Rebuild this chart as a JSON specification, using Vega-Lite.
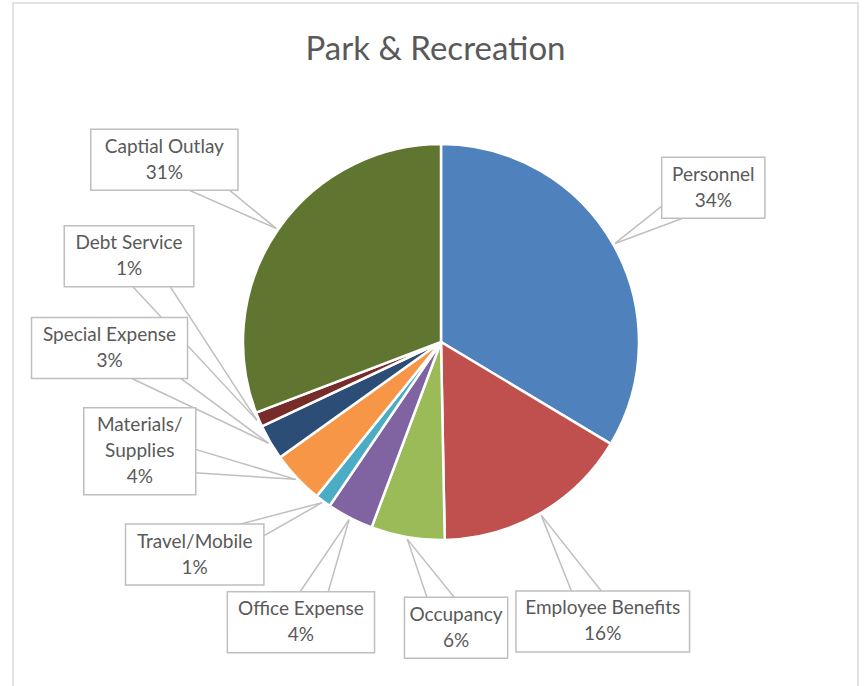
{
  "$schema": "https://vega.github.io/schema/vega-lite/v6.json",
  "width": 845,
  "height": 684,
  "autosize": {"type": "none"},
  "padding": {"left": 13, "top": 3, "right": 8, "bottom": 0},
  "background": "white",
  "config": {
    "view": {"stroke": "#d9d9d9", "strokeWidth": 1.5},
    "font": "Lato"
  },
  "title": {
    "text": "Park & Recreation",
    "font": "Lato",
    "fontSize": 33,
    "fontWeight": "normal",
    "color": "#595959",
    "anchor": "middle",
    "baseline": "alphabetic",
    "offset": -90
  },
  "data": {
    "values": [
      {"idx": 0, "category": "Personnel", "label": "Personnel", "value": 33.6},
      {"idx": 1, "category": "Employee Benefits", "label": "Employee Benefits", "value": 16.1},
      {"idx": 2, "category": "Occupancy", "label": "Occupancy", "value": 6.0},
      {"idx": 3, "category": "Office Expense", "label": "Office Expense", "value": 3.8},
      {"idx": 4, "category": "Travel/Mobile", "label": "Travel/Mobile", "value": 1.3},
      {"idx": 5, "category": "Materials/Supplies", "label": "Materials/\nSupplies", "value": 4.3},
      {"idx": 6, "category": "Special Expense", "label": "Special Expense", "value": 2.9},
      {"idx": 7, "category": "Debt Service", "label": "Debt Service", "value": 1.2},
      {"idx": 8, "category": "Captial Outlay", "label": "Captial Outlay", "value": 30.8}
    ]
  },
  "transform": [
    {"joinaggregate": [{"op": "sum", "field": "value", "as": "total"}]},
    {"window": [{"op": "sum", "field": "value", "as": "cum"}], "sort": [{"field": "idx"}], "frame": [null, 0]},
    {"calculate": "datum.value / datum.total", "as": "pct"},
    {"calculate": "(datum.cum - datum.value / 2) / datum.total * 360", "as": "mid"},
    {"calculate": "length(split(datum.label, '\\n')) + 1", "as": "nlines"},
    {"calculate": "4.4 * length(split(datum.label, '\\n')[0]) + 12", "as": "hw"},
    {"calculate": "(datum.nlines * 26 + 9) / 2", "as": "hh"},
    {"calculate": "datum.mid - 20 * datum.idx", "as": "t1"},
    {"window": [{"op": "max", "field": "t1", "as": "m1"}], "sort": [{"field": "idx"}], "frame": [null, 0]},
    {"calculate": "20 * datum.idx + datum.m1", "as": "a1"},
    {"window": [
      {"op": "lag", "field": "a1", "as": "pa1"},
      {"op": "lag", "field": "hw", "as": "phw"},
      {"op": "lag", "field": "hh", "as": "phh"}
    ], "sort": [{"field": "idx"}]},
    {"calculate": "(datum.a1 + datum.pa1) / 2 * PI / 180", "as": "th"},
    {"calculate": "datum.idx == 0 ? 0 : min((datum.hw + datum.phw) / (310 * abs(cos(datum.th))), (datum.hh + datum.phh) / (310 * abs(sin(datum.th)))) * 180 / PI + 5", "as": "gap"},
    {"window": [{"op": "sum", "field": "gap", "as": "G"}], "sort": [{"field": "idx"}], "frame": [null, 0]},
    {"calculate": "datum.mid - datum.G", "as": "t2"},
    {"window": [{"op": "max", "field": "t2", "as": "m2"}], "sort": [{"field": "idx"}], "frame": [null, 0]},
    {"joinaggregate": [{"op": "mean", "field": "t2", "as": "tmean"}], "groupby": ["m2"]},
    {"calculate": "datum.G + (datum.m2 + datum.tmean) / 2", "as": "ang"},
    {"calculate": "datum.ang * PI / 180", "as": "ar"},
    {"calculate": "datum.mid * PI / 180", "as": "mr"},
    {"calculate": "198 + 55 + abs(sin(datum.ar)) * datum.hw + abs(cos(datum.ar)) * datum.hh", "as": "dist"},
    {"calculate": "datum.dist * sin(datum.ar)", "as": "cx"},
    {"calculate": "datum.dist * cos(datum.ar)", "as": "cy"},
    {"calculate": "datum.cy + (datum.nlines - 1) * 13", "as": "texty"},
    {"calculate": "200 * sin(datum.mr)", "as": "tx"},
    {"calculate": "200 * cos(datum.mr)", "as": "ty"},
    {"calculate": "sqrt(pow(datum.cx - datum.tx, 2) + pow(datum.cy - datum.ty, 2))", "as": "vlen"},
    {"calculate": "-(datum.cy - datum.ty) / datum.vlen * 18", "as": "px"},
    {"calculate": "(datum.cx - datum.tx) / datum.vlen * 18", "as": "py"},
    {"calculate": "datum.cx + datum.px", "as": "b1x"},
    {"calculate": "datum.cy + datum.py", "as": "b1y"},
    {"calculate": "datum.cx - datum.px", "as": "b2x"},
    {"calculate": "datum.cy - datum.py", "as": "b2y"},
    {"calculate": "datum.cx - datum.hw", "as": "x1"},
    {"calculate": "datum.cx + datum.hw", "as": "x2"},
    {"calculate": "datum.cy - datum.hh", "as": "y1"},
    {"calculate": "datum.cy + datum.hh", "as": "y2"},
    {"calculate": "datum.label + '\\n' + format(datum.pct, '.0%')", "as": "txt"}
  ],
  "layer": [
    {
      "mark": {"type": "arc", "outerRadius": 198, "stroke": "white", "strokeWidth": 2.5},
      "encoding": {
        "x": {"datum": 0, "type": "quantitative", "scale": {"domain": [-428, 417], "nice": false, "zero": false}, "axis": null},
        "y": {"datum": 0, "type": "quantitative", "scale": {"domain": [-345, 339], "nice": false, "zero": false}, "axis": null},
        "theta": {"field": "value", "type": "quantitative", "stack": true},
        "order": {"field": "idx", "type": "quantitative"},
        "color": {
          "field": "category",
          "type": "nominal",
          "legend": null,
          "scale": {
            "domain": ["Personnel", "Employee Benefits", "Occupancy", "Office Expense", "Travel/Mobile", "Materials/Supplies", "Special Expense", "Debt Service", "Captial Outlay"],
            "range": ["#4F81BD", "#C0504D", "#9BBB59", "#8064A2", "#4BACC6", "#F79646", "#2C4D75", "#772C2A", "#5F7530"]
          }
        }
      }
    },
    {
      "mark": {"type": "rule", "color": "#bfbfbf", "strokeWidth": 1.5},
      "encoding": {
        "x": {"field": "tx", "type": "quantitative"},
        "y": {"field": "ty", "type": "quantitative"},
        "x2": {"field": "b1x"},
        "y2": {"field": "b1y"}
      }
    },
    {
      "mark": {"type": "rule", "color": "#bfbfbf", "strokeWidth": 1.5},
      "encoding": {
        "x": {"field": "tx", "type": "quantitative"},
        "y": {"field": "ty", "type": "quantitative"},
        "x2": {"field": "b2x"},
        "y2": {"field": "b2y"}
      }
    },
    {
      "mark": {"type": "rect", "fill": "white", "stroke": "#bfbfbf", "strokeWidth": 1.5},
      "encoding": {
        "x": {"field": "x1", "type": "quantitative"},
        "x2": {"field": "x2"},
        "y": {"field": "y1", "type": "quantitative"},
        "y2": {"field": "y2"}
      }
    },
    {
      "mark": {"type": "text", "font": "Lato", "fontSize": 19, "color": "#595959", "align": "center", "baseline": "middle", "lineBreak": "\n", "lineHeight": 26},
      "encoding": {
        "x": {"field": "cx", "type": "quantitative"},
        "y": {"field": "texty", "type": "quantitative"},
        "text": {"field": "txt", "type": "nominal"}
      }
    }
  ]
}
